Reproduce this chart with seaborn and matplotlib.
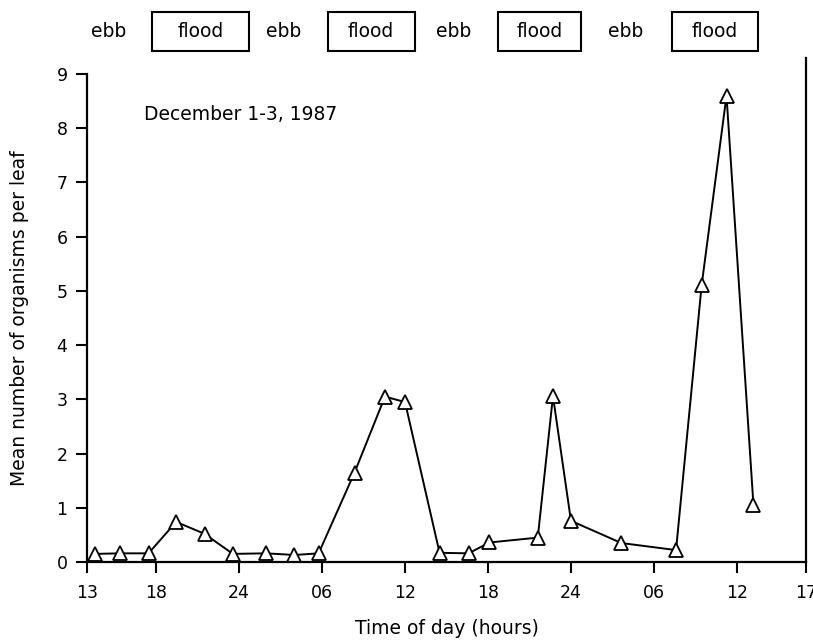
import matplotlib
matplotlib.use("Agg")
import matplotlib.pyplot as plt
import matplotlib.transforms as mtransforms
from matplotlib.patches import Rectangle
import seaborn as sns
import pandas as pd

# ---- data (hours elapsed since 13:00 on December 1, 1987) ----
hours = [0.6, 2.4, 4.45, 6.45, 8.5, 10.55, 12.95, 15.0, 16.75, 19.35, 21.55, 23.0,
         25.5, 27.6, 29.1, 32.6, 33.7, 35.0, 38.65, 42.6, 44.45, 46.25, 48.2]
organisms = [0.15, 0.16, 0.16, 0.74, 0.52, 0.15, 0.16, 0.13, 0.16, 1.65, 3.05, 2.95,
             0.17, 0.16, 0.36, 0.45, 3.06, 0.76, 0.35, 0.22, 5.1, 8.6, 1.05]

tick_hours = [0, 5, 11, 17, 23, 29, 35, 41, 47, 52]
tick_labels = ["13", "18", "24", "06", "12", "18", "24", "06", "12", "17"]

tide_labels = ["ebb", "flood", "ebb", "flood", "ebb", "flood", "ebb", "flood"]

df = pd.DataFrame({"hour": hours, "mean": organisms})

sns.set_style("ticks")
plt.rcParams["font.family"] = ["DejaVu Sans"]
plt.rcParams["text.color"] = "black"
plt.rcParams["axes.labelcolor"] = "black"

fig = plt.figure(figsize=(8.13, 6.44), dpi=100)
ax = fig.add_axes([0.107, 0.1273, 0.8844, 0.7578])

sns.lineplot(data=df, x="hour", y="mean", ax=ax, color="black", linewidth=1.4,
             marker="^", markersize=9.5, markerfacecolor="white",
             markeredgecolor="black", markeredgewidth=1.3, sort=False, clip_on=False)

ax.set_xlim(0, 52)
ax.set_ylim(0, 9)
ax.set_xticks(tick_hours)
ax.set_xticklabels(tick_labels)
ax.set_yticks(range(0, 10))
ax.tick_params(axis="both", direction="out", length=8, width=1.5,
               labelsize=12.5, colors="black", pad=6)
ax.tick_params(axis="x", pad=8)

for s in ["left", "bottom", "right"]:
    ax.spines[s].set_linewidth(1.6)
    ax.spines[s].set_color("black")
ax.spines["top"].set_visible(False)
ax.spines["right"].set_bounds(0, 9.3)

ax.set_xlabel("Time of day (hours)", fontsize=13.5, labelpad=12)
ax.set_ylabel("Mean number of organisms per leaf", fontsize=13.5, labelpad=20)

ax.text(4.1, 8.25, "December 1-3, 1987", fontsize=13.5, ha="left", va="center")

# tide labels above the plot
trans = mtransforms.blended_transform_factory(ax.transData, ax.transAxes)
text_centers = [1.55, 8.2, 14.2, 20.55, 26.5, 32.75, 38.95, 45.4]
box_spans = [(4.7, 11.7), (17.4, 23.7), (29.75, 35.75), (42.3, 48.5)]
for lab, xc in zip(tide_labels, text_centers):
    ax.text(xc, 1.088, lab, transform=trans, fontsize=13.5, ha="center", va="center",
            clip_on=False)
for x0, x1 in box_spans:
    ax.add_patch(Rectangle((x0, 1.047), x1 - x0, 0.08, transform=trans, fill=False,
                           edgecolor="black", linewidth=1.5, clip_on=False))

fig.savefig("out.png", dpi=100)
